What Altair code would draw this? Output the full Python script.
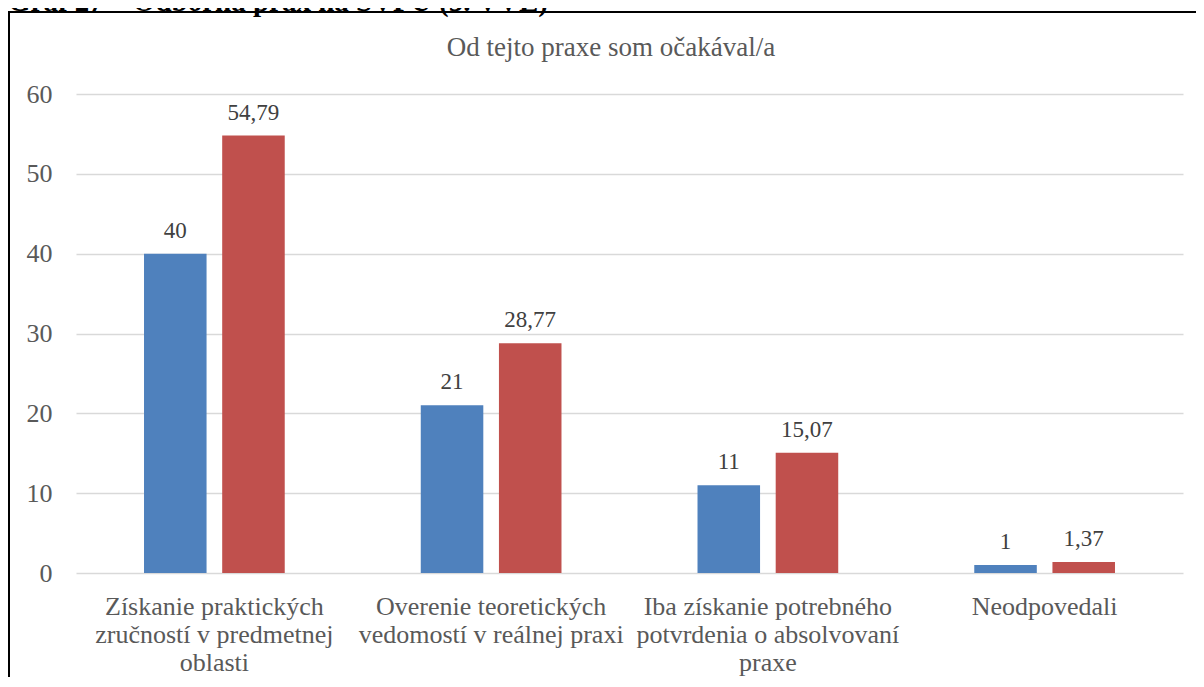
import altair as alt
import pandas as pd

# ---- data ----
categories = [
    "Získanie praktických\nzručností v predmetnej\noblasti",
    "Overenie teoretických\nvedomostí v reálnej praxi",
    "Iba získanie potrebného\npotvrdenia o absolvovaní\npraxe",
    "Neodpovedali",
]
series = ["počet", "%"]
values_count = [40, 21, 11, 1]
values_pct = [54.79, 28.77, 15.07, 1.37]
y_ticks = [0, 10, 20, 30, 40, 50, 60]

chart_title = "Od tejto praxe som očakával/a"
page_title = "Graf 27 – Odborná prax na SVPU (5. VVE)"

rows = []
for c, v in zip(categories, values_count):
    rows.append({"kat": c, "serie": series[0], "hodnota": v})
for c, v in zip(categories, values_pct):
    rows.append({"kat": c, "serie": series[1], "hodnota": v})
df = pd.DataFrame(rows)

W, H = 1107, 479
PAD_L, PAD_T, PAD_R, PAD_B = 68, 86, 13, 104
FONT = "Times New Roman, Liberation Serif, serif"

base = alt.Chart(df).encode(
    x=alt.X(
        "kat:N",
        sort=categories,
        scale=alt.Scale(paddingInner=0, paddingOuter=0),
        axis=alt.Axis(
            title=None,
            labelExpr="split(datum.label, '\\n')",
            labelAngle=0,
            labelFont=FONT,
            labelFontSize=26,
            labelLineHeight=28,
            labelPadding=20,
            labelBaseline="top",
            labelColor="#595959",
            labelLimit=400,
            ticks=False,
            domain=False,
            grid=False,
        ),
    ),
    xOffset=alt.XOffset(
        "serie:N",
        sort=series,
        scale=alt.Scale(paddingInner=0.2, paddingOuter=0.87),
    ),
    y=alt.Y(
        "hodnota:Q",
        scale=alt.Scale(domain=[0, 60], nice=False),
        axis=alt.Axis(
            title=None,
            values=y_ticks,
            labelFont=FONT,
            labelFontSize=26,
            labelColor="#595959",
            labelPadding=24,
            ticks=False,
            domain=False,
            grid=True,
            gridColor="#d9d9d9",
            gridWidth=1.5,
        ),
    ),
)

bars = base.mark_bar().encode(
    color=alt.Color(
        "serie:N",
        scale=alt.Scale(domain=series, range=["#4F81BD", "#C0504D"]),
        legend=None,
    )
)

labels = base.transform_calculate(
    lbl="replace(toString(datum.hodnota), '.', ',')"
).mark_text(
    dy=-16, baseline="alphabetic", font=FONT, fontSize=23, color="#404040"
).encode(text="lbl:N")

one = pd.DataFrame({"a": [0]})

title_txt = alt.Chart(one).mark_text(
    text=chart_title, font=FONT, fontSize=27, color="#595959",
    align="center", baseline="middle",
).encode(x=alt.value(535), y=alt.value(-46))

page_txt = alt.Chart(one).mark_text(
    text=page_title, font=FONT, fontSize=29, fontWeight="bold", color="#000000",
    align="left", baseline="alphabetic",
).encode(x=alt.value(-68), y=alt.value(-83.5))

frame_top = alt.Chart(one).mark_rule(color="#000000", strokeWidth=2).encode(
    x=alt.value(-68), x2=alt.value(W + PAD_R), y=alt.value(-82)
)
frame_left = alt.Chart(one).mark_rule(color="#000000", strokeWidth=2).encode(
    x=alt.value(-67), y=alt.value(-83), y2=alt.value(H + PAD_B)
)

chart = alt.layer(
    bars, labels, title_txt, page_txt, frame_top, frame_left
).properties(
    width=W,
    height=H,
    autosize=alt.AutoSizeParams(type="none"),
    padding={"left": PAD_L, "top": PAD_T, "right": PAD_R, "bottom": PAD_B},
).configure_view(stroke=None)

chart.save("out.html", embed_options={"renderer": "svg", "actions": False})
